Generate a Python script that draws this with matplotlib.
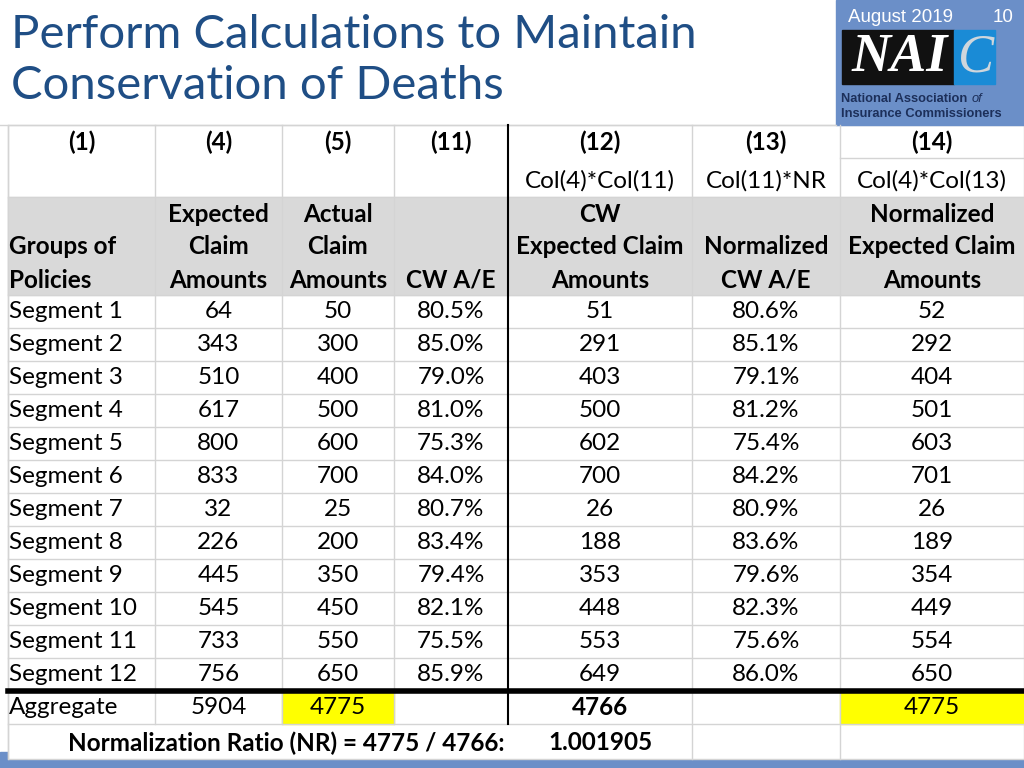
import matplotlib
matplotlib.use("Agg")
import matplotlib.pyplot as plt
from matplotlib.patches import Rectangle

# table data
groups = ["Segment %d" % i for i in range(1, 13)]
expected = [64, 343, 510, 617, 800, 833, 32, 226, 445, 545, 733, 756]
actual = [50, 300, 400, 500, 600, 700, 25, 200, 350, 450, 550, 650]
cw_ae = ["80.5%", "85.0%", "79.0%", "81.0%", "75.3%", "84.0%", "80.7%", "83.4%", "79.4%", "82.1%", "75.5%", "85.9%"]
cw_expected = [51, 291, 403, 500, 602, 700, 26, 188, 353, 448, 553, 649]
norm_ae = ["80.6%", "85.1%", "79.1%", "81.2%", "75.4%", "84.2%", "80.9%", "83.6%", "79.6%", "82.3%", "75.6%", "86.0%"]
norm_expected = [52, 292, 404, 501, 603, 701, 26, 189, 354, 449, 554, 650]
col_nums = ["(1)", "(4)", "(5)", "(11)", "(12)", "(13)", "(14)"]
formulas = ["", "", "", "", "Col(4)*Col(11)", "Col(11)*NR", "Col(4)*Col(13)"]
headers = [["", "Groups of", "Policies"],
           ["Expected", "Claim", "Amounts"],
           ["Actual", "Claim", "Amounts"],
           ["", "", "CW A/E"],
           ["CW", "Expected Claim", "Amounts"],
           ["", "Normalized", "CW A/E"],
           ["Normalized", "Expected Claim", "Amounts"]]
agg_label = "Aggregate"
agg_values = ["5904", "4775", "", "4766", "", "4775"]
nr_text = "Normalization Ratio (NR) = 4775 / 4766:"
nr_value = "1.001905"

FONT = "Lato"
GRID = "#d4d4d4"
BLUE = "#6b8fc8"

fig = plt.figure(figsize=(10.24, 7.68), dpi=100)
ax = fig.add_axes([0, 0, 1, 1])
ax.set_xlim(0, 1024)
ax.set_ylim(768, 0)
ax.axis("off")

# column edges and row layout (pixels)
xs = [8, 155, 282, 394, 508, 692, 840, 1024]
centers = [(xs[i] + xs[i + 1]) / 2 for i in range(7)]
row_h = 33
data_top = 295
bottom = 759

# bottom bar, with the table box sitting over it
ax.add_patch(Rectangle((0, 752), 1024, 16, color=BLUE, zorder=0))
ax.add_patch(Rectangle((xs[0], 125), 1024 - xs[0], bottom - 125, facecolor="white",
                       edgecolor=GRID, lw=1, zorder=0.5))

# title
ax.text(11, 35, "Perform Calculations to Maintain", fontsize=34, color="#1f4e85",
        family=FONT, va="center", ha="left")
ax.text(11, 86, "Conservation of Deaths", fontsize=34, color="#1f4e85",
        family=FONT, va="center", ha="left")

# logo block
ax.add_patch(Rectangle((836, 0), 188, 125, color=BLUE, zorder=1))
ax.text(848, 18, "August 2019", color="white", fontsize=13.5, family="Liberation Sans", va="center")
ax.text(1013, 18, "10", color="white", fontsize=13.5, family="Liberation Sans", va="center", ha="right")
ax.add_patch(Rectangle((842, 30), 112, 54, color="#111111", zorder=2))
ax.add_patch(Rectangle((954, 30), 41, 54, color="#1a8bd6", zorder=2))
ax.text(900, 58, "NAI", color="white", fontsize=39, family="Liberation Serif",
        weight="bold", style="italic", ha="center", va="center", zorder=3)
ax.text(976, 58, "C", color="#cfd6dc", fontsize=39, family="Liberation Serif",
        style="italic", ha="center", va="center", zorder=3)
t1 = ax.text(841, 99, "National Association ", color="#1c2f5a", fontsize=9.3,
             family="Liberation Sans", weight="bold", va="center", zorder=3)
ax.text(841, 114, "Insurance Commissioners", color="#1c2f5a", fontsize=9.3,
        family="Liberation Sans", weight="bold", va="center", zorder=3)
r = fig.canvas.get_renderer()
bb = t1.get_window_extent(renderer=r)
ax.text(bb.x1 + 1, 99, "of", color="#1c2f5a", fontsize=9.3,
        family="Liberation Sans", style="italic", va="center", zorder=3)

# gray header band
ax.add_patch(Rectangle((xs[0], 197), xs[-1] - xs[0], data_top - 197, color="#d9d9d9", zorder=0.6))

# yellow cells in aggregate row
agg_top = data_top + 12 * row_h
ax.add_patch(Rectangle((xs[2], agg_top), xs[3] - xs[2], row_h, color="#ffff00", zorder=0.6))
ax.add_patch(Rectangle((xs[6], agg_top), xs[7] - xs[6], row_h, color="#ffff00", zorder=0.6))

# grid lines
ax.plot([0, 836], [125, 125], color=GRID, lw=1)
ax.plot([xs[6], 1024], [158, 158], color=GRID, lw=1)
ax.plot([xs[0], 1024], [197, 197], color=GRID, lw=1)
for k in range(13):
    y = data_top + k * row_h
    ax.plot([xs[0], 1024], [y, y], color=GRID, lw=1)
ax.plot([xs[0], 1024], [agg_top + row_h, agg_top + row_h], color=GRID, lw=1)
for i, x in enumerate(xs[:-1]):
    if i == 4:
        continue
    y1 = agg_top + row_h if i in (1, 2, 3) else bottom
    ax.plot([x, x], [125, y1], color=GRID, lw=1)
ax.plot([xs[4], xs[4]], [125, agg_top + row_h], color="black", lw=1.5)
ax.plot([xs[0], 1024], [agg_top, agg_top], color="black", lw=4)

# header text
fs = 17.5
for i in range(7):
    ax.text(centers[i], 142, col_nums[i], fontsize=fs, weight="bold", family=FONT,
            ha="center", va="center")
    if formulas[i]:
        ax.text(centers[i], 181, formulas[i], fontsize=fs, family=FONT, ha="center", va="center")
    for k, line in enumerate(headers[i]):
        if not line:
            continue
        if i == 0:
            ax.text(9, 214 + k * 33, line, fontsize=fs, weight="bold", family=FONT,
                    ha="left", va="center")
        else:
            ax.text(centers[i], 214 + k * 33, line, fontsize=fs, weight="bold", family=FONT,
                    ha="center", va="center")

# data rows
for k in range(12):
    y = data_top + k * row_h + row_h / 2
    vals = [expected[k], actual[k], cw_ae[k], cw_expected[k], norm_ae[k], norm_expected[k]]
    ax.text(9, y, groups[k], fontsize=fs, family=FONT, ha="left", va="center")
    for c, v in enumerate(vals):
        ax.text(centers[c + 1], y, str(v), fontsize=fs, family=FONT, ha="center", va="center")

# aggregate row
y = agg_top + row_h / 2
ax.text(9, y, agg_label, fontsize=fs, family=FONT, ha="left", va="center")
for c, v in enumerate(agg_values):
    ax.text(centers[c + 1], y, v, fontsize=fs, family=FONT, ha="center", va="center",
            weight="bold" if c == 3 else "normal")

# normalization ratio
ax.text(505, 743, nr_text, fontsize=fs, weight="bold", family=FONT, ha="right", va="center")
ax.text(centers[4], 743, nr_value, fontsize=fs, weight="bold", family=FONT, ha="center", va="center")

fig.savefig("out.png", dpi=100)
